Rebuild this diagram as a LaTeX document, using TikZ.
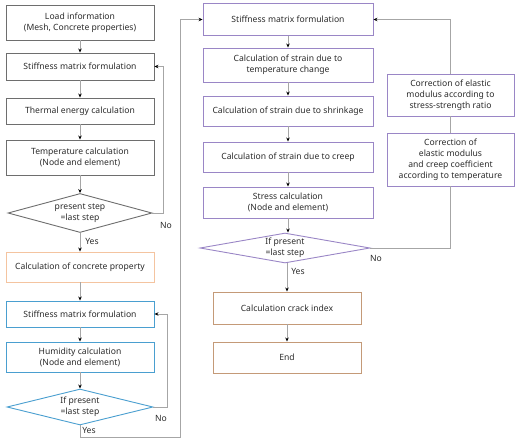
\documentclass[tikz,border=0pt]{standalone}
\usepackage{fontspec}
\setmainfont{Noto Sans}
\usepackage{tikz}
\usepackage{xcolor}
\usetikzlibrary{arrows.meta, shapes.geometric, calc, positioning}
\definecolor{linegray}{HTML}{A6A6A6}
\definecolor{txtgray}{HTML}{2B2B2B}
\definecolor{boxgray}{HTML}{6E6E6E}
\definecolor{boxorange}{HTML}{F4C4A0}
\definecolor{boxblue}{HTML}{4A9FD0}
\definecolor{boxpurple}{HTML}{9A86C6}
\definecolor{boxbrown}{HTML}{C49A78}
\tikzset{
  box/.style={draw, fill=white, line width=0.9pt, align=center, inner sep=1pt, text=txtgray, font=\fontsize{8.6}{11}\selectfont},
  decision/.style={box, diamond, inner sep=0pt, aspect=4},
  flow/.style={draw=linegray, line width=0.8pt, -{Stealth[length=4pt,width=3.5pt,color=black]}},
  plain/.style={draw=linegray, line width=0.8pt},
  lbl/.style={text=txtgray, font=\fontsize{8.6}{10}\selectfont, inner sep=0pt}
}
\begin{document}
\begin{tikzpicture}[x=1pt, y=-1pt]
  \useasboundingbox (0,0) rectangle (524,447);

  \node[box, draw=boxgray, minimum width=148pt, minimum height=35pt] (load) at (80,22.5) {Load information\\(Mesh, Concrete properties)};
  \node[box, draw=boxgray, minimum width=148pt, minimum height=27pt] (stiffA) at (80,66.5) {Stiffness matrix formulation};
  \node[box, draw=boxgray, minimum width=148pt, minimum height=26pt] (thermal) at (80,111) {Thermal energy calculation};
  \node[box, draw=boxgray, minimum width=148pt, minimum height=35pt] (temp) at (80,157.5) {Temperature calculation\\(Node and element)};
  \node[decision, draw=boxgray, minimum width=144pt, minimum height=39pt] (decA) at (80,213) {present step\\=last step};

  \node[box, draw=boxorange, minimum width=148pt, minimum height=30pt] (prop) at (80,267) {Calculation of concrete property};
  \node[box, draw=boxblue, minimum width=148pt, minimum height=26pt] (stiffB) at (80,314) {Stiffness matrix formulation};
  \node[box, draw=boxblue, minimum width=148pt, minimum height=30pt] (hum) at (80,357) {Humidity calculation\\(Node and element)};
  \node[decision, draw=boxblue, minimum width=146pt, minimum height=36pt] (decB) at (80,407) {If present\\=last step};

  \node[box, draw=boxpurple, minimum width=170pt, minimum height=32pt] (stiffC) at (288,19.5) {Stiffness matrix formulation};
  \node[box, draw=boxpurple, minimum width=170pt, minimum height=34pt] (strT) at (288,65) {Calculation of strain due to\\temperature change};
  \node[box, draw=boxpurple, minimum width=170pt, minimum height=30pt] (shrink) at (288,111) {Calculation of strain due to shrinkage};
  \node[box, draw=boxpurple, minimum width=170pt, minimum height=30pt] (creep) at (288,157) {Calculation of strain due to creep};
  \node[box, draw=boxpurple, minimum width=170pt, minimum height=31pt] (stress) at (288,202.5) {Stress calculation\\(Node and element)};
  \node[decision, draw=boxpurple, minimum width=170pt, minimum height=30pt, aspect=5] (decC) at (285,248) {If present\\=last step};

  \node[box, draw=boxbrown, minimum width=148pt, minimum height=32pt] (crack) at (287,308) {Calculation crack index};
  \node[box, draw=boxbrown, minimum width=148pt, minimum height=31pt] (end) at (287,357.5) {End};

  \node[box, draw=boxpurple, minimum width=127pt, minimum height=42pt] (corrA) at (450.5,95) {Correction of elastic\\modulus according to\\stress-strength ratio};
  \node[box, draw=boxpurple, minimum width=127pt, minimum height=53pt] (corrB) at (450.5,159.5) {Correction of\\elastic modulus\\and creep coefficient\\according to temperature};

  \coordinate (turn) at (180,437);

  \draw[flow] (load) -- (stiffA);
  \draw[flow] (stiffA) -- (thermal);
  \draw[flow] (thermal) -- (temp);
  \draw[flow] (temp) -- (decA);
  \draw[flow] (decA.east) -- ++(11,0) |- (stiffA.east);
  \draw[flow] (decA) -- (prop);
  \draw[flow] (prop) -- (stiffB);
  \draw[flow] (stiffB) -- (hum);
  \draw[flow] (hum) -- (decB);
  \draw[flow] (decB.east) -- ++(14,0) |- (stiffB.east);
  \draw[flow] (decB.south) |- (turn) |- (stiffC.west);

  \draw[flow] (stiffC) -- (strT);
  \draw[flow] (strT) -- (shrink);
  \draw[flow] (shrink) -- (creep);
  \draw[flow] (creep) -- (stress);
  \draw[flow] (stress.south) -- (stress.south |- decC.north);
  \draw[flow] (decC.south -| crack.north) -- (crack);
  \draw[flow] (crack) -- (end);
  \draw[plain] (decC.east) -| (corrB.south);
  \draw[plain] (corrB) -- (corrA);
  \draw[flow] (corrA.north) |- (stiffC.east);

  \node[lbl] (noA) at (166,225) {No};
  \node[lbl] (yesA) at (92,241) {Yes};
  \node[lbl] (noB) at (161,418) {No};
  \node[lbl] (yesB) at (89,430) {Yes};
  \node[lbl] (yesC) at (298,271) {Yes};
  \node[lbl] (noC) at (376,258) {No};
\end{tikzpicture}
\end{document}
